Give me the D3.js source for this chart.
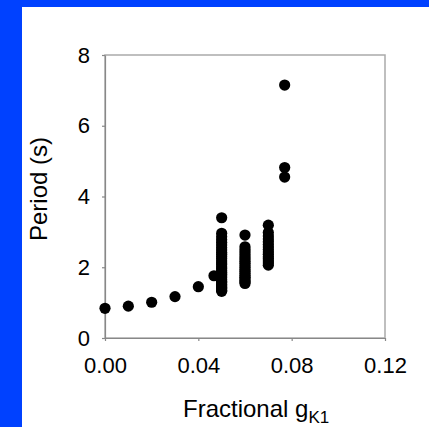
<!DOCTYPE html>
<html>
<head>
<meta charset="utf-8">
<script src="https://cdn.jsdelivr.net/npm/d3@7"></script>
<style>
  html, body { margin: 0; padding: 0; background: #fff; }
  svg { display: block; }
  text { font-family: "Liberation Sans", Arial, sans-serif; fill: #000; }
</style>
</head>
<body>
<svg id="chart" width="429" height="427"></svg>
<script>
// Period of spontaneous oscillation versus fractional gK1
const lowG = [0.000, 0.010, 0.020, 0.030, 0.040, 0.0467];
const lowPeriod = [0.84, 0.90, 1.01, 1.17, 1.45, 1.76];

const columnG = [0.050, 0.060, 0.070, 0.077];
const columnPeriods = [
  [3.40, 2.96, 2.86, 2.78, 2.70, 2.63, 2.55, 2.49, 2.42, 2.36, 2.30, 2.24, 2.18, 2.12, 2.07,
   2.01, 1.96, 1.90, 1.85, 1.80, 1.75, 1.70, 1.65, 1.60, 1.56, 1.51, 1.47, 1.43, 1.39, 1.35, 1.32],
  [2.91, 2.58, 2.50, 2.43, 2.36, 2.29, 2.23, 2.17, 2.11, 2.05, 1.99, 1.93, 1.88, 1.82, 1.77,
   1.72, 1.67, 1.62, 1.58, 1.54],
  [3.19, 2.98, 2.88, 2.80, 2.72, 2.64, 2.57, 2.50, 2.43, 2.37, 2.30, 2.24, 2.18, 2.12, 2.06],
  [7.15, 4.82, 4.55]
];

const xTicks = [0, 0.04, 0.08, 0.12];
const yTicks = [0, 2, 4, 6, 8];

const svg = d3.select("#chart");
const W = 429, H = 427;

// blue frame along the left and top edges
svg.append("rect").attr("x", 0).attr("y", 0).attr("width", W).attr("height", 7).attr("fill", "#0041ff");
svg.append("rect").attr("x", 0).attr("y", 0).attr("width", 22).attr("height", H).attr("fill", "#0041ff");

const plot = { left: 105, right: 385, top: 55, bottom: 338 };

const x = d3.scaleLinear().domain([0, 0.12]).range([plot.left, plot.right]);
const y = d3.scaleLinear().domain([0, 8]).range([plot.bottom, plot.top]);

// plot-area border
svg.append("rect")
  .attr("x", plot.left).attr("y", plot.top)
  .attr("width", plot.right - plot.left).attr("height", plot.bottom - plot.top)
  .attr("fill", "none").attr("stroke", "#aaa").attr("stroke-width", 1.5);

const xAxis = svg.append("g")
  .attr("transform", `translate(0,${plot.bottom})`)
  .call(d3.axisBottom(x).tickValues(xTicks).tickFormat(d3.format(".2f"))
    .tickSize(3).tickSizeOuter(0).tickPadding(16));

const yAxis = svg.append("g")
  .attr("transform", `translate(${plot.left},0)`)
  .call(d3.axisLeft(y).tickValues(yTicks).tickFormat(d3.format("d"))
    .tickSize(3).tickSizeOuter(0).tickPadding(12));

[xAxis, yAxis].forEach(g => {
  g.select(".domain").attr("stroke", "#888").attr("stroke-width", 1.2);
  g.selectAll(".tick line").attr("stroke", "#888").attr("stroke-width", 1.2);
  g.selectAll(".tick text").attr("font-size", 22).attr("fill", "#000")
    .style("font-family", "'Liberation Sans', Arial, sans-serif");
});

// data points
const points = lowG.map((g, i) => ({ g, p: lowPeriod[i] }));
columnG.forEach((g, i) => columnPeriods[i].forEach(p => points.push({ g, p })));

svg.append("g").selectAll("circle")
  .data(points)
  .join("circle")
  .attr("cx", d => x(d.g))
  .attr("cy", d => y(d.p))
  .attr("r", 5.6)
  .attr("fill", "#000");

// axis titles
const xTitle = svg.append("text")
  .attr("x", 183).attr("y", 417)
  .attr("font-size", 24);
xTitle.append("tspan").text("Fractional g");
xTitle.append("tspan").attr("font-size", 17).attr("dy", 6).text("K1");

svg.append("text")
  .attr("transform", "translate(47,189) rotate(-90)")
  .attr("text-anchor", "middle")
  .attr("font-size", 24)
  .text("Period (s)");
</script>
</body>
</html>
